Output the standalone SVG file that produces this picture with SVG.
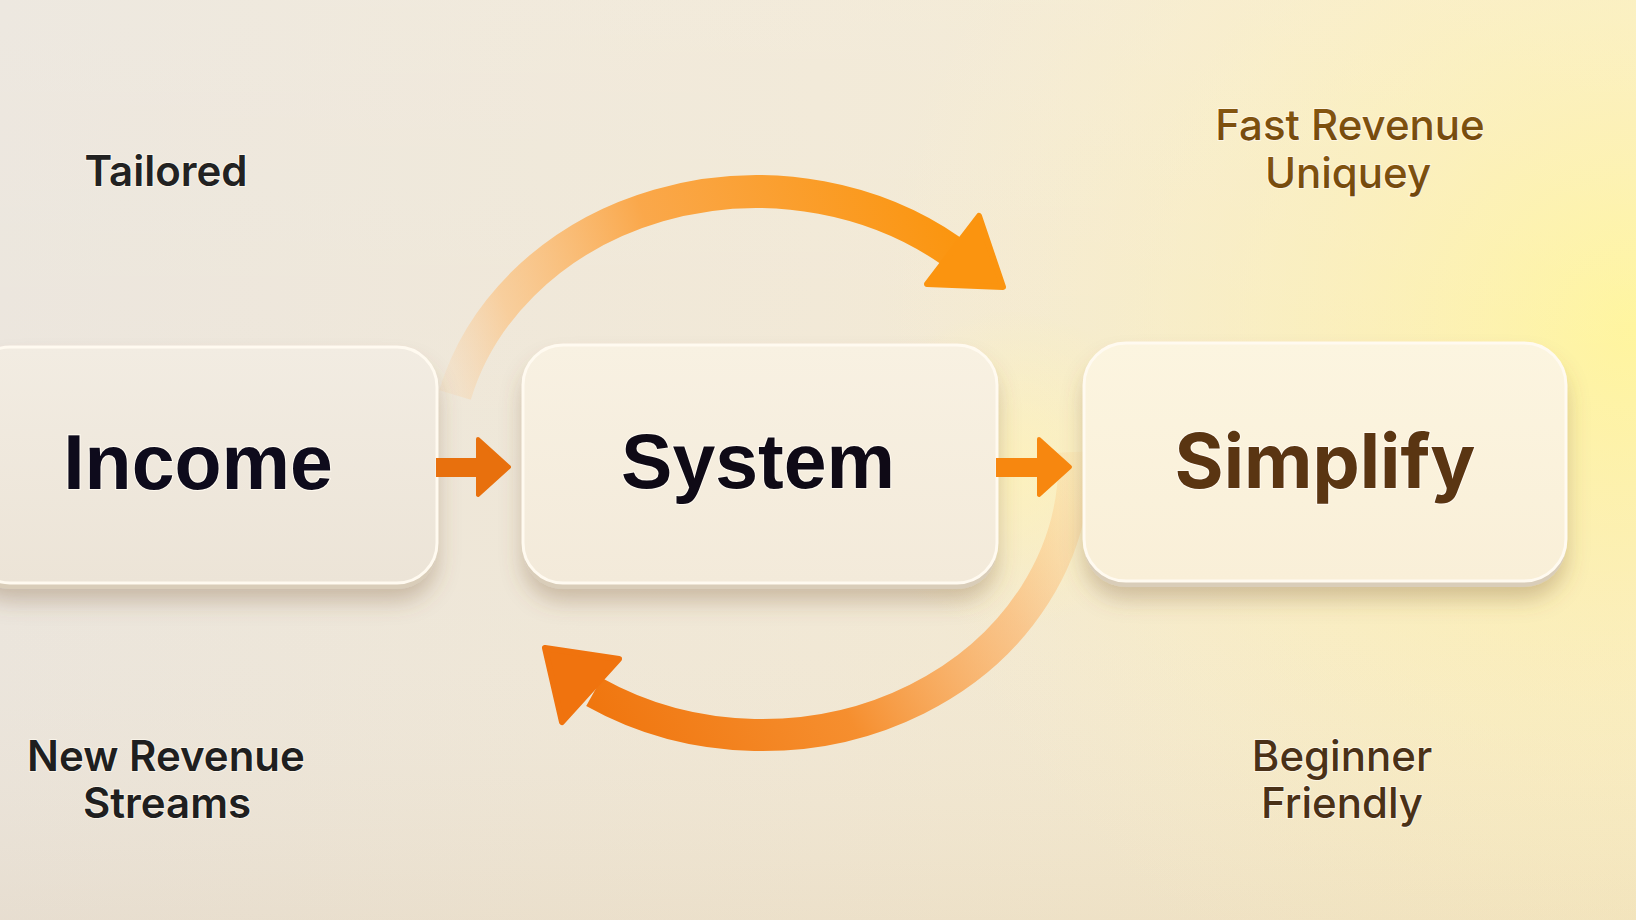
<svg xmlns="http://www.w3.org/2000/svg" width="1636" height="920" viewBox="0 0 1636 920">
<defs>
<style>
.node-text{font-family:"Liberation Sans",Arial,sans-serif;font-weight:700;font-size:77px;text-anchor:middle;paint-order:stroke;stroke:#fffaf0;stroke-width:2px}
.lbl{font-family:Inter,"Liberation Sans",sans-serif;font-weight:600;font-size:42px;text-anchor:middle;paint-order:stroke;stroke:#fffaf0;stroke-width:2px;stroke-opacity:.7}
.side{fill:#d9cdb9}
.face{stroke:#fffaf0;stroke-width:3}
</style>
<linearGradient id="bg" x1="0" y1="0" x2="1" y2="0">
<stop offset="0" stop-color="#ebe5dc"/>
<stop offset="0.5" stop-color="#f1e8d5"/>
<stop offset="1" stop-color="#f7ebc8"/>
</linearGradient>
<linearGradient id="bgv" x1="0" y1="0" x2="0" y2="1">
<stop offset="0" stop-color="#ffffff" stop-opacity="0.12"/>
<stop offset="0.6" stop-color="#ffffff" stop-opacity="0"/>
<stop offset="1" stop-color="#c9a878" stop-opacity="0.12"/>
</linearGradient>
<radialGradient id="glow" cx="1636" cy="330" r="760" gradientUnits="userSpaceOnUse">
<stop offset="0" stop-color="#fff59a" stop-opacity="1"/>
<stop offset="0.35" stop-color="#fdf0b0" stop-opacity="0.75"/>
<stop offset="1" stop-color="#fbefc8" stop-opacity="0"/>
</radialGradient>
<radialGradient id="glow2" cx="1010" cy="470" r="160" gradientUnits="userSpaceOnUse">
<stop offset="0" stop-color="#fff3b8" stop-opacity="0.8"/>
<stop offset="1" stop-color="#fff3b8" stop-opacity="0"/>
</radialGradient>
<linearGradient id="topArc" gradientUnits="userSpaceOnUse" x1="455" y1="410" x2="960" y2="250">
<stop offset="0" stop-color="#fdc88e" stop-opacity="0.15"/>
<stop offset="0.15" stop-color="#fdbd74" stop-opacity="0.6"/>
<stop offset="0.45" stop-color="#fba23e" stop-opacity="0.92"/>
<stop offset="1" stop-color="#fb950f"/>
</linearGradient>
<linearGradient id="botArc" gradientUnits="userSpaceOnUse" x1="1075" y1="440" x2="590" y2="700">
<stop offset="0" stop-color="#fdc57a" stop-opacity="0.1"/>
<stop offset="0.25" stop-color="#fcb266" stop-opacity="0.65"/>
<stop offset="0.6" stop-color="#f68a26" stop-opacity="0.95"/>
<stop offset="1" stop-color="#f0760f"/>
</linearGradient>
<linearGradient id="faceA" x1="0" y1="0" x2="0" y2="1">
<stop offset="0" stop-color="#f2ece2"/>
<stop offset="1" stop-color="#ece4d7"/>
</linearGradient>
<linearGradient id="faceB" x1="0" y1="0" x2="0" y2="1">
<stop offset="0" stop-color="#f8f1e2"/>
<stop offset="1" stop-color="#f3eada"/>
</linearGradient>
<linearGradient id="faceC" x1="0" y1="0" x2="0" y2="1">
<stop offset="0" stop-color="#fcf5e0"/>
<stop offset="1" stop-color="#f9efd8"/>
</linearGradient>
<linearGradient id="goldText" x1="0" y1="0" x2="0" y2="1">
<stop offset="0" stop-color="#8a5a10"/>
<stop offset="1" stop-color="#70460c"/>
</linearGradient>
<filter id="shadow" x="-20%" y="-20%" width="140%" height="160%">
<feDropShadow dx="0" dy="12" stdDeviation="11" flood-color="#7a5a30" flood-opacity="0.32"/>
</filter>
</defs>

<rect width="1636" height="920" fill="url(#bg)"/>
<rect width="1636" height="920" fill="url(#glow)"/>
<rect width="1636" height="920" fill="url(#bgv)"/>
<rect width="1636" height="920" fill="url(#glow2)"/>

<g id="connectors">
<path d="M 455 395 A 312 273 0 0 1 951 251" fill="none" stroke="url(#topArc)" stroke-width="33"/>
<polygon points="979,216 1003,287 927,284" fill="#fb940f" stroke="#fb940f" stroke-width="6" stroke-linejoin="round"/>
<path d="M 1074 452 A 312 273 0 0 1 594 692" fill="none" stroke="url(#botArc)" stroke-width="32"/>
<polygon points="545,648 619,659 562,722" fill="#f0730e" stroke="#f0730e" stroke-width="6" stroke-linejoin="round"/>
</g>

<g id="node-income">
<rect class="side" x="-30" y="351" width="467" height="238" rx="40" filter="url(#shadow)"/>
<rect class="face" x="-30" y="347" width="467" height="236" rx="40" fill="url(#faceA)"/>
<text class="node-text" x="198" y="489" fill="#0e0b1c">Income</text>
</g>

<g id="node-system">
<rect class="side" x="523" y="349" width="474" height="240" rx="40" filter="url(#shadow)"/>
<rect class="face" x="523" y="345" width="474" height="238" rx="40" fill="url(#faceB)"/>
<text class="node-text" x="758" y="488" fill="#0f0a16">System</text>
</g>

<g id="node-simplify">
<rect class="side" x="1084" y="347" width="482" height="240" rx="42" filter="url(#shadow)"/>
<rect class="face" x="1084" y="343" width="482" height="238" rx="42" fill="url(#faceC)"/>
<text x="1325" y="488" fill="#5a3512" style="font-family:Inter,'Liberation Sans',sans-serif;font-weight:700;font-size:75px;text-anchor:middle;paint-order:stroke;stroke:#fffaf0;stroke-width:2px">Simplify</text>
</g>

<g id="arrows">
<rect x="436" y="458" width="43" height="19" fill="#e8700d"/>
<polygon points="478,439 509,467 478,495" fill="#e8700d" stroke="#e8700d" stroke-width="4" stroke-linejoin="round"/>
<rect x="996" y="458" width="44" height="19" fill="#f7870f"/>
<polygon points="1039,439 1070,467 1039,495" fill="#f7870f" stroke="#f7870f" stroke-width="4" stroke-linejoin="round"/>
</g>

<g id="label-tailored">
<text class="lbl" x="166" y="186" fill="#222222" font-size="44">Tailored</text>
</g>
<g id="label-new-revenue">
<text class="lbl" x="166" y="771" fill="#1f1f1f">New Revenue</text>
<text class="lbl" x="167" y="818" fill="#1f1f1f">Streams</text>
</g>
<g id="label-fast-revenue">
<text class="lbl" x="1350" y="140" fill="url(#goldText)" style="font-weight:500">Fast Revenue</text>
<text class="lbl" x="1348" y="188" fill="url(#goldText)" style="font-weight:500">Uniquey</text>
</g>
<g id="label-beginner">
<text class="lbl" x="1342" y="771" fill="#4a3117" style="font-weight:500">Beginner</text>
<text class="lbl" x="1342" y="818" fill="#4a3117" style="font-weight:500">Friendly</text>
</g>
</svg>
